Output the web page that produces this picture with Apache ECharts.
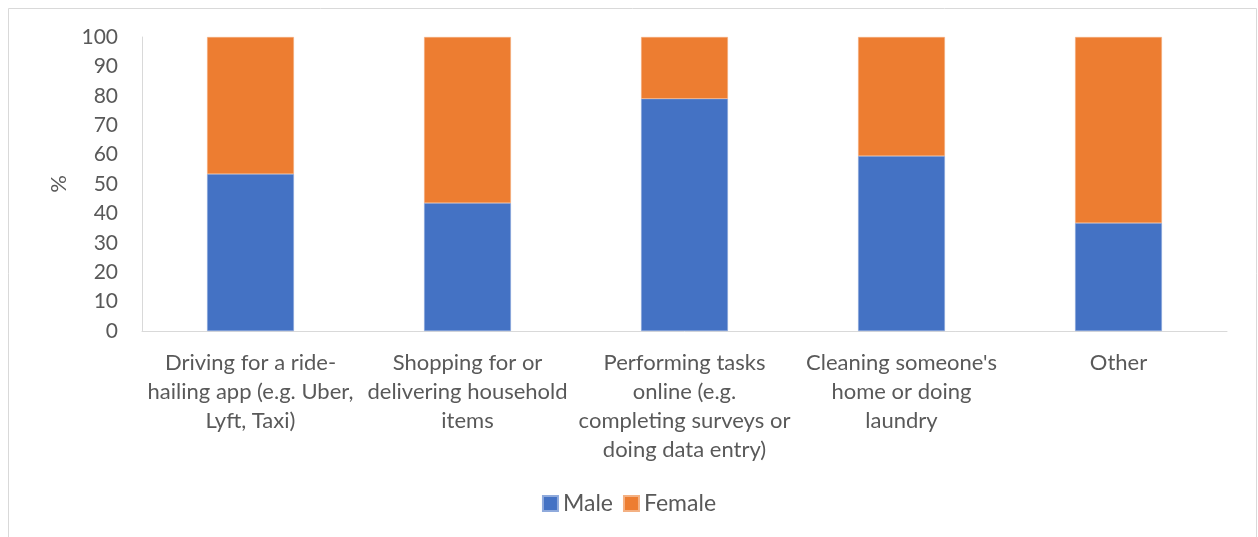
<!DOCTYPE html>
<html>
<head>
<meta charset="utf-8">
<script src="https://cdn.jsdelivr.net/npm/echarts@6/dist/echarts.min.js"></script>
<style>
  html, body { margin: 0; padding: 0; background: #ffffff; }
  #chart { width: 1258px; height: 537px; }
</style>
</head>
<body>
<div id="chart"></div>
<script>
// Gig work type by gender, share of workers (%)
const categories = [
  'Driving for a ride-\nhailing app (e.g. Uber,\nLyft, Taxi)',
  'Shopping for or\ndelivering household\nitems',
  'Performing tasks\nonline (e.g.\ncompleting surveys or\ndoing data entry)',
  "Cleaning someone's\nhome or doing\nlaundry",
  'Other'
];
const male = [53.4, 43.5, 79.0, 59.5, 36.7];
const female = male.map(v => +(100 - v).toFixed(1));
const yTicks = { min: 0, max: 100, interval: 10 };

const FONT = 'Lato, "Open Sans", sans-serif';
const TEXT = '#595959';

const chart = echarts.init(document.getElementById('chart'), null, { renderer: 'canvas' });
chart.setOption({
  animation: false,
  backgroundColor: '#ffffff',
  textStyle: { fontFamily: FONT },
  graphic: [{
    type: 'rect',
    shape: { x: 8.5, y: 8.5, width: 1248, height: 540 },
    style: { fill: null, stroke: '#d9d9d9', lineWidth: 1 },
    silent: true
  }],
  grid: { left: 142, right: 31, top: 37, bottom: 206, containLabel: false },
  legend: {
    data: ['Male', 'Female'],
    bottom: 17,
    left: 'center',
    itemWidth: 15,
    itemHeight: 15,
    itemGap: 10,
    icon: 'rect',
    textStyle: { color: TEXT, fontSize: 23, fontFamily: FONT }
  },
  xAxis: {
    type: 'category',
    data: categories,
    axisLine: { show: true, lineStyle: { color: '#d9d9d9', width: 1 } },
    axisTick: { show: false },
    axisLabel: {
      color: TEXT, fontSize: 22, fontFamily: FONT, lineHeight: 29,
      interval: 0, margin: 17, verticalAlign: 'top'
    }
  },
  yAxis: {
    type: 'value',
    min: yTicks.min, max: yTicks.max, interval: yTicks.interval,
    name: '%',
    nameLocation: 'middle',
    nameGap: 72,
    nameRotate: 90,
    nameTextStyle: { color: TEXT, fontSize: 22, fontFamily: FONT },
    axisLine: { show: true, lineStyle: { color: '#d9d9d9', width: 1 } },
    axisTick: { show: false },
    splitLine: { show: false },
    axisLabel: { color: TEXT, fontSize: 21, fontFamily: FONT, margin: 24 }
  },
  series: [
    {
      name: 'Male', type: 'bar', stack: 'gender', data: male, barWidth: '40%',
      itemStyle: { color: '#4472c4', borderColor: '#8faadc', borderWidth: 0.5 }
    },
    {
      name: 'Female', type: 'bar', stack: 'gender', data: female, barWidth: '40%',
      itemStyle: { color: '#ed7d31', borderColor: '#f4b183', borderWidth: 0.5 }
    }
  ]
});
</script>
</body>
</html>
